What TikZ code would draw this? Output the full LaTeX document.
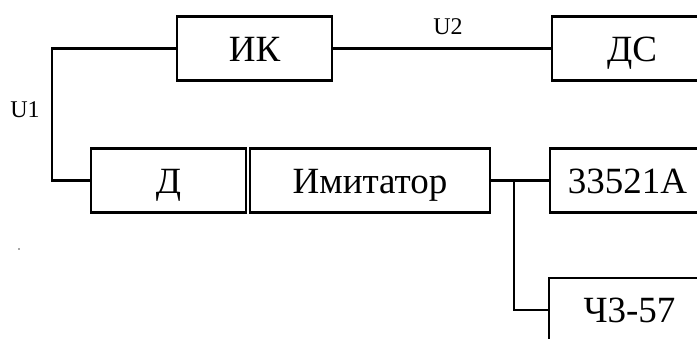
\documentclass[tikz,border=0pt]{standalone}
\usepackage{fontspec}
\setmainfont{Liberation Serif}
\begin{document}
\begin{tikzpicture}[x=1pt,y=-1pt,
  blk/.style={draw,line width=2.6pt,minimum height=64pt,inner sep=0pt,
    font=\fontsize{37}{40}\selectfont,text height=25pt,text depth=0pt},
  wire/.style={line width=2.6pt},
  lbl/.style={font=\fontsize{24}{26}\selectfont,inner sep=0pt}]
  \useasboundingbox (0,0) rectangle (697,338);
  \clip (0,0) rectangle (697,338);
  % blocks
  \node[blk,minimum width=155pt] (ik)   at (254.5,48.5) {ИК};
  \node[blk,minimum width=160pt] (ds)   at (632,48.5)   {ДС};
  \node[blk,minimum width=155pt] (d)    at (168.5,180.5){Д};
  \node[blk,minimum width=240pt] (imit) at (370,180.5)  {Имитатор};
  \node[blk,minimum width=155pt] (gen)  at (627.5,180.5){33521A};
  \node[blk,minimum width=161pt] (freq) at (629.5,310)  {Ч3-57};
  % connections
  \coordinate (bend)  at (52,48.5);
  \coordinate (split) at (514,180.5);
  \draw[wire] (ik.west) -- (bend) |- (d.west);
  \draw[wire] (ik.east) -- (ds.west);
  \draw[wire] (imit.east) -- (gen.west);
  \draw[wire] (split) |- (freq.west);
  % signal labels
  \node[lbl] (u1) at (25,110) {U1};
  \node[lbl] (u2) at (448,27) {U2};
  % stray speck
  \fill[black!70] (19,249) circle (0.9pt);
\end{tikzpicture}
\end{document}
